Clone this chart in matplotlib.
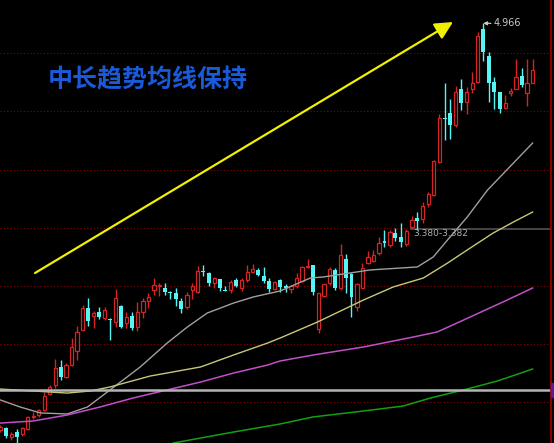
import matplotlib
matplotlib.use('Agg')
import matplotlib.pyplot as plt

plt.rcParams['font.family'] = ['Noto Sans CJK SC', 'DejaVu Sans']

# K线数据 (开 高 低 收)
opens = [1.835, 1.850, 1.781, 1.821, 1.804, 1.842, 1.932, 1.950, 1.989, 2.112,
         2.181, 2.320, 2.243, 2.335, 2.443, 2.605, 2.774, 2.712, 2.741, 2.697,
         2.689, 2.668, 2.789, 2.656, 2.712, 2.625, 2.745, 2.830, 2.913, 2.940,
         2.930, 2.899, 2.892, 2.828, 2.779, 2.909, 2.897, 3.059, 3.047, 2.964,
         2.995, 2.913, 2.913, 2.986, 2.928, 2.990, 3.053, 3.070, 3.020, 2.982,
         2.918, 2.990, 2.943, 2.918, 2.943, 2.982, 3.092, 3.105, 2.610, 2.866,
         2.964, 3.067, 2.926, 3.149, 3.033, 2.779, 2.930, 3.123, 3.138, 3.195,
         3.290, 3.259, 3.354, 3.318, 3.264, 3.394, 3.465, 3.463, 3.575, 3.644,
         3.901, 4.235, 4.273, 4.183, 4.458, 4.363, 4.458, 4.517, 4.920, 4.717,
         4.512, 4.440, 4.312, 4.427, 4.458, 4.560, 4.427, 4.509]
highs = [1.873, 1.860, 1.819, 1.842, 1.858, 1.942, 1.973, 1.996, 2.127, 2.181,
         2.381, 2.374, 2.350, 2.543, 2.635, 2.797, 2.851, 2.751, 2.782, 2.784,
         2.697, 2.920, 2.797, 2.746, 2.746, 2.822, 2.853, 2.890, 3.003, 2.966,
         2.966, 2.905, 2.928, 2.853, 2.899, 2.964, 3.097, 3.105, 3.049, 3.015,
         2.995, 2.943, 2.990, 3.003, 3.003, 3.105, 3.110, 3.080, 3.087, 3.007,
         2.982, 2.995, 2.959, 2.951, 3.046, 3.097, 3.149, 3.105, 2.887, 2.959,
         3.092, 3.080, 3.264, 3.190, 3.041, 2.964, 3.118, 3.213, 3.221, 3.318,
         3.375, 3.375, 3.388, 3.431, 3.382, 3.480, 3.515, 3.590, 3.665, 3.914,
         4.265, 4.504, 4.381, 4.483, 4.535, 4.473, 4.594, 4.902, 4.966, 4.747,
         4.550, 4.440, 4.414, 4.470, 4.689, 4.620, 4.689, 4.689]
lows = [1.819, 1.773, 1.758, 1.737, 1.788, 1.835, 1.922, 1.935, 1.981, 2.104,
        2.158, 2.220, 2.235, 2.327, 2.374, 2.597, 2.636, 2.620, 2.689, 2.682,
        2.528, 2.630, 2.620, 2.620, 2.605, 2.597, 2.695, 2.776, 2.874, 2.870,
        2.874, 2.843, 2.789, 2.733, 2.764, 2.841, 2.887, 3.020, 2.943, 2.926,
        2.907, 2.907, 2.892, 2.938, 2.907, 2.977, 3.046, 3.020, 2.964, 2.899,
        2.913, 2.899, 2.899, 2.892, 2.926, 2.976, 3.080, 2.874, 2.584, 2.861,
        2.951, 2.913, 2.913, 2.892, 2.707, 2.753, 2.926, 3.113, 3.128, 3.182,
        3.246, 3.241, 3.292, 3.246, 3.251, 3.382, 3.375, 3.432, 3.555, 3.634,
        3.888, 4.068, 4.073, 4.170, 4.299, 4.268, 4.432, 4.509, 4.678, 4.363,
        4.304, 4.273, 4.304, 4.406, 4.458, 4.473, 4.329, 4.504]
closes = [1.858, 1.788, 1.804, 1.783, 1.848, 1.932, 1.945, 1.989, 2.096, 2.166,
          2.312, 2.243, 2.335, 2.474, 2.589, 2.774, 2.674, 2.739, 2.705, 2.762,
          2.682, 2.849, 2.630, 2.707, 2.622, 2.745, 2.828, 2.856, 2.951, 2.951,
          2.895, 2.887, 2.846, 2.766, 2.874, 2.943, 3.059, 3.049, 2.964, 3.003,
          2.930, 2.907, 2.972, 2.947, 2.990, 3.053, 3.072, 3.028, 2.982, 2.918,
          2.976, 2.938, 2.926, 2.943, 3.003, 3.092, 3.100, 2.899, 2.887, 2.959,
          3.072, 2.926, 3.182, 3.003, 2.861, 2.956, 3.080, 3.164, 3.182, 3.272,
          3.275, 3.362, 3.311, 3.285, 3.369, 3.448, 3.442, 3.563, 3.654, 3.904,
          4.235, 4.227, 4.183, 4.440, 4.355, 4.440, 4.509, 4.868, 4.747, 4.509,
          4.440, 4.304, 4.355, 4.447, 4.555, 4.491, 4.504, 4.607]

# 均线 (读图取样点)
ma1_x = [0, 3.6, 7.3, 12.2, 15.9, 20.0, 25.5, 30.4, 34.1, 37.7, 42.5, 46.1,
         51.0, 56.5, 58.9, 67.4, 76.0, 78.9, 81.5, 85.1, 88.8, 93.5, 97]
ma1 = [2.066, 2.012, 1.966, 1.958, 2.012, 2.143, 2.320, 2.504, 2.628, 2.735,
       2.812, 2.859, 2.905, 3.005, 3.013, 3.067, 3.090, 3.167, 3.298, 3.475,
       3.683, 3.890, 4.044]
ma2_x = [0, 6.0, 12.2, 16.4, 20.0, 27.3, 36.5, 42.5, 48.7, 51.0, 57.8, 66.2,
         71.6, 77.1, 81.5, 85.1, 89.8, 93.5, 97]
ma2 = [2.150, 2.135, 2.119, 2.135, 2.166, 2.250, 2.320, 2.412, 2.504, 2.543,
       2.666, 2.836, 2.936, 3.005, 3.120, 3.221, 3.351, 3.436, 3.513]
ma3_x = [0, 6.0, 12.2, 18.2, 24.2, 30.4, 36.5, 42.5, 48.7, 51.0, 57.0, 66.2,
         75.3, 79.6, 84.4, 92.4, 97]
ma3 = [1.888, 1.904, 1.950, 2.012, 2.081, 2.143, 2.204, 2.273, 2.335, 2.366,
       2.412, 2.474, 2.551, 2.589, 2.681, 2.836, 2.928]
ma4_x = [31.5, 42.5, 51.0, 57.0, 66.2, 73.4, 78.4, 84.4, 90.6, 97]
ma4 = [1.734, 1.819, 1.881, 1.935, 1.981, 2.019, 2.081, 2.143, 2.212, 2.304]

grid_levels = [4.737, 4.291, 3.836, 3.390, 2.943, 2.497, 2.050]
level_line = 2.143
price_line = 3.380
peak_idx, peak_val = 88, 4.966

RED = '#d42424'
CYAN = '#55f5f5'

fig = plt.figure(figsize=(5.54, 4.43), dpi=100, facecolor='black')
ax = fig.add_axes([0, 0, 1, 1])
ax.set_facecolor('black')
ax.set_xlim(-0.05, 100.9)
ax.set_ylim(1.7345, 5.1456)
for s in ax.spines.values():
    s.set_visible(False)
ax.set_xticks([])
ax.set_yticks([])

# 网格
for g in grid_levels:
    ax.axhline(g, xmax=0.9945, color='#8a0000', lw=0.8, ls=(0, (1, 2)), zorder=1)

# K线
idx = range(len(opens))
up = [i for i in idx if closes[i] >= opens[i]]
dn = [i for i in idx if closes[i] < opens[i]]
ax.vlines(up, [lows[i] for i in up], [highs[i] for i in up], color=RED, lw=1, zorder=2)
ax.vlines(dn, [lows[i] for i in dn], [highs[i] for i in dn], color=CYAN, lw=1, zorder=2)
ax.bar(up, [max(closes[i] - opens[i], 0.005) for i in up], bottom=[opens[i] for i in up],
       width=0.6, color='black', edgecolor=RED, linewidth=0.9, zorder=3)
ax.bar(dn, [max(opens[i] - closes[i], 0.005) for i in dn], bottom=[closes[i] for i in dn],
       width=0.7, color=CYAN, linewidth=0, zorder=3)

# 均线
ax.plot(ma1_x, ma1, color='#a0a0a0', lw=1, zorder=4)
ax.plot(ma2_x, ma2, color='#c8c878', lw=1, zorder=4)
ax.plot(ma3_x, ma3, color='#c050c8', lw=1.1, zorder=4)
ax.plot(ma4_x, ma4, color='#12a012', lw=1.1, zorder=4)
ax.axhline(level_line, xmax=0.9945, color='#b4b4b4', lw=1.8, zorder=5)

# 右侧坐标线
ax.axvline(100.35, color='#a00000', lw=1.2, zorder=6)
ax.add_patch(plt.Rectangle((551 / 554, 1 - 397 / 443), 3 / 554, 14 / 443,
                           transform=ax.transAxes, color='#5a1a9a', zorder=7))

# 3.380 价格线
ax.hlines(price_line, 74.7, 100.35, color='#4a4a4a', lw=1.3, zorder=1)
ax.text(75.2, price_line - 0.03, '3.380-3.382', color='#b0b0b0', fontsize=6.5,
        family='DejaVu Sans', ha='left', va='center', zorder=8)

# 最高价标注
ax.annotate('4.966', xy=(peak_idx, peak_val), xytext=(peak_idx + 1.9, peak_val),
            color='#c8c8c8', fontsize=7, family='DejaVu Sans', ha='left', va='center',
            arrowprops=dict(arrowstyle='-|>,head_length=0.3,head_width=0.15',
                            color='#c8c8c8', lw=0.9, shrinkA=0, shrinkB=0))

# 标题与箭头
ax.text(148 / 554, 1 - 80 / 443, '中长趋势均线保持', transform=ax.transAxes,
        ha='center', va='center', fontsize=18, fontweight='bold', color='#1a5ad8')
ax.annotate('', xy=(0.8177, 0.9503), xytext=(0.0632, 0.3837),
            xycoords='axes fraction', textcoords='axes fraction',
            arrowprops=dict(arrowstyle='-|>,head_length=0.9,head_width=0.45',
                            color='#f0f000', lw=1.6, shrinkA=0, shrinkB=0,
                            mutation_scale=12))

fig.savefig('out.png', dpi=100, facecolor='black')
